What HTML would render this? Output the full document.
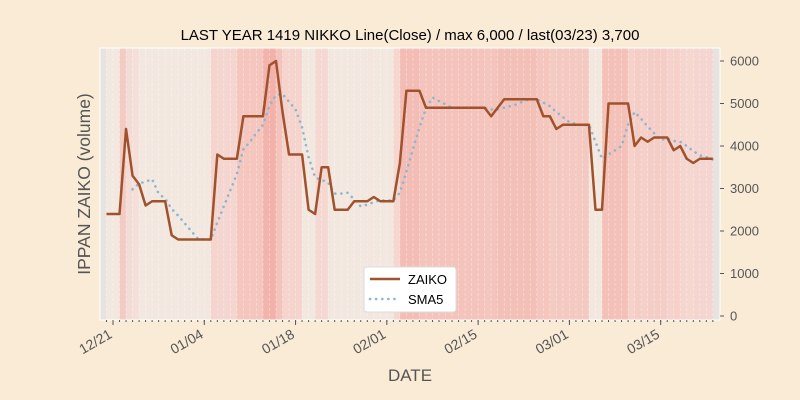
<!DOCTYPE html>
<html><head><meta charset="utf-8">
<style>
html,body{margin:0;padding:0;background:#faebd7;}
svg{display:block;font-family:"Liberation Sans","DejaVu Sans",sans-serif;}
</style></head>
<body>
<svg id="chart" width="800" height="400" viewBox="0 0 800 400" xmlns="http://www.w3.org/2000/svg">
<rect width="800" height="400" fill="#faebd7"/>
<text x="410" y="40" text-anchor="middle" font-size="15" fill="#000">LAST YEAR 1419 NIKKO Line(Close) / max 6,000 / last(03/23) 3,700</text>
<g id="plot"></g>
<text transform="translate(90,184) rotate(-90)" text-anchor="middle" font-size="17.5" fill="#555">IPPAN ZAIKO (volume)</text>
<text x="410" y="381" text-anchor="middle" font-size="17" fill="#555">DATE</text>
</svg>
<script>
// days offset from 12/21 (day 0)
const startDay = -1;
const zaiko = [2400,2400,2400,4400,3300,3100,2600,2700,2700,2700,1900,1800,1800,1800,1800,1800,1800,
3800,3700,3700,3700,4700,4700,4700,4700,5900,6000,4800,3800,3800,3800,2500,2400,3500,3500,
2500,2500,2500,2700,2700,2700,2800,2700,2700,2700,3600,5300,5300,5300,
4900,4900,4900,4900,4900,4900,4900,4900,4900,4900,4700,4900,5100,5100,5100,5100,5100,5100,
4700,4700,4400,4500,4500,4500,4500,4500,2500,2500,5000,5000,5000,5000,
4000,4200,4100,4200,4200,4200,3900,4000,3700,3600,3700,3700,3700];
const xTickLabels = ["12/21","01/04","01/18","02/01","02/15","03/01","03/15"];
const xTickDays = [0,14,28,42,56,70,84];
const yTicks = [0,1000,2000,3000,4000,5000,6000];

const NS="http://www.w3.org/2000/svg";
const plot=document.getElementById('plot');
const L=100,R=720,T=48,B=320;
const xS=d=>113+d*6.52;
const yS=v=>316-v*0.0425;
function mk(tag,attrs,parent){const e=document.createElementNS(NS,tag);for(const k in attrs)e.setAttribute(k,attrs[k]);(parent||plot).appendChild(e);return e;}
function lerp(a,b,t){return Math.round(a+(b-a)*t);}
const stops=[[2700,[242,232,224]],[3500,[245,216,210]],[4700,[244,198,190]],[6000,[242,178,170]]];
function col(v){
  if(v<=stops[0][0])return `rgb(${stops[0][1]})`;
  for(let i=1;i<stops.length;i++){if(v<=stops[i][0]){const t=(v-stops[i-1][0])/(stops[i][0]-stops[i-1][0]);const a=stops[i-1][1],b=stops[i][1];return `rgb(${lerp(a[0],b[0],t)},${lerp(a[1],b[1],t)},${lerp(a[2],b[2],t)})`;}}
  return `rgb(${stops[stops.length-1][1]})`;
}
const bg=mk('rect',{x:L,y:T,width:R-L,height:B-T,fill:'#e6e3e0'});


zaiko.forEach((v,i)=>{
  if(i===0)return;
  const d=startDay+i;
  const r=mk('rect',{x:xS(d-1),y:T,width:xS(d)-xS(d-1)+0.3,height:B-T,fill:col(v)});
  
  
});
for(let d=startDay;d<startDay+zaiko.length;d++){
  const g=mk('line',{x1:xS(d),x2:xS(d),y1:T,y2:B,stroke:'#fff','stroke-width':0.7,'stroke-dasharray':'3,2',opacity:0.45});
  
  
}
const fr=mk('rect',{x:L,y:T,width:R-L,height:B-T,fill:'none',stroke:'#fff','stroke-width':1});


// sma5
const sma=[];
for(let i=4;i<zaiko.length;i++){let s=0;for(let j=i-4;j<=i;j++)s+=zaiko[j];sma.push([startDay+i,s/5]);}
const sp=mk('polyline',{points:sma.map(p=>xS(p[0])+','+yS(p[1])).join(' '),fill:'none',stroke:'#8fb6cf','stroke-width':2.6,'stroke-dasharray':'0.1,6','stroke-linecap':'round'});


const zp=mk('polyline',{points:zaiko.map((v,i)=>xS(startDay+i)+','+yS(v)).join(' '),fill:'none',stroke:'#a0522d','stroke-width':2.5,'stroke-linejoin':'round'});


// y ticks right
yTicks.forEach(v=>{
  const t=mk('line',{x1:R,x2:R+4,y1:yS(v),y2:yS(v),stroke:'#555','stroke-width':1});
  
  
  const tx=mk('text',{x:R+10,y:yS(v)+4.5,'font-size':13,fill:'#555'});
  tx.textContent=v;
  
  
});
// x minor ticks
for(let d=startDay;d<startDay+zaiko.length;d++){
  const m=mk('line',{x1:xS(d),x2:xS(d),y1:B,y2:B+2,stroke:'#555','stroke-width':1});
  
  
}
xTickDays.forEach((d,i)=>{
  const t=mk('line',{x1:xS(d),x2:xS(d),y1:B,y2:B+5,stroke:'#555','stroke-width':1});
  
  
  const tx=mk('text',{transform:`translate(${xS(d)},${B+17}) rotate(-30)`,'text-anchor':'end','font-size':14,fill:'#555'});
  tx.textContent=xTickLabels[i];
  
  
});
// legend
const lg=mk('g',{});


mk('rect',{x:364,y:267,width:92,height:45,rx:3,fill:'#fff',stroke:'#ddd'},lg);
mk('line',{x1:370,x2:400,y1:279,y2:279,stroke:'#a0522d','stroke-width':2.5},lg);
mk('line',{x1:370,x2:400,y1:299,y2:299,stroke:'#8fb6cf','stroke-width':2.6,'stroke-dasharray':'0.1,6','stroke-linecap':'round'},lg);
const t1=mk('text',{x:408,y:284,'font-size':13,fill:'#000'},lg);t1.textContent='ZAIKO';


const t2=mk('text',{x:408,y:304,'font-size':13,fill:'#000'},lg);t2.textContent='SMA5';


</script>
</body></html>
